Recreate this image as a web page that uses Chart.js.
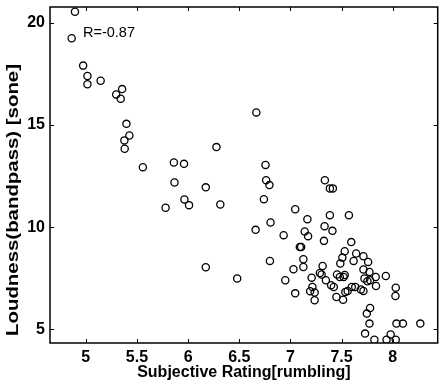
<!DOCTYPE html>
<html>
<head>
<meta charset="utf-8">
<script src="https://cdn.jsdelivr.net/npm/chart.js@4"></script>
<style>
  html, body { margin: 0; padding: 0; background: #fff; }
  #wrap { width: 443px; height: 387px; }
</style>
</head>
<body>
<div id="wrap"><canvas id="c" width="443" height="387"></canvas></div>
<script>
// ---------- data ----------
const rating = [
  4.894, 4.862, 4.974, 5.016, 5.016, 5.145, 5.355, 5.297, 5.341, 5.397,
  5.426, 5.377, 5.380, 5.558, 5.861, 5.960, 6.277, 5.867, 6.173, 5.964,
  6.009, 5.780, 6.315, 6.173, 6.480, 6.667, 6.757, 6.763, 6.795, 6.741,
  6.660, 6.806, 6.934, 7.047, 7.166, 7.140, 7.173, 7.092, 7.105, 7.127,
  7.127, 7.030, 6.950, 7.047, 6.800, 7.208, 7.215, 7.193, 7.237, 7.237,
  7.288, 7.305, 7.315, 7.337, 7.386, 7.415, 7.386, 7.334, 7.411, 7.328,
  7.572, 7.595, 7.531, 7.508, 7.488, 7.618, 7.643, 7.714, 7.760, 7.714,
  7.773, 7.834, 7.933, 7.724, 7.753, 7.779, 7.837, 7.347, 7.398, 7.424,
  7.456, 7.483, 7.521, 7.531, 7.450, 7.515, 7.537, 7.560, 7.600, 7.634,
  7.689, 7.714, 7.779, 7.747, 7.773, 7.730, 7.821, 7.940, 7.980, 8.030,
  8.030, 8.027, 8.037, 8.100, 8.270
];
const loudness = [
  20.55, 19.25, 17.91, 17.40, 17.00, 17.17, 16.76, 16.50, 16.29, 15.06,
  14.49, 14.25, 13.84, 12.94, 13.17, 13.10, 13.92, 12.19, 11.95, 11.36,
  11.08, 10.95, 11.11, 8.04, 7.49, 15.62, 13.05, 12.30, 12.06, 11.37,
  9.87, 10.23, 9.61, 10.88, 10.39, 9.79, 9.56, 9.03, 9.03, 8.43,
  8.05, 7.94, 7.40, 6.76, 8.35, 7.53, 7.07, 6.86, 6.80, 6.42,
  7.76, 7.68, 8.10, 12.30, 11.90, 11.90, 10.59, 10.05, 9.82, 9.33,
  10.59, 9.27, 8.82, 8.51, 8.22, 8.35, 8.71, 8.58, 8.30, 7.93,
  7.81, 7.56, 7.61, 7.49, 7.35, 7.40, 7.12, 7.40, 7.16, 7.07,
  7.68, 7.56, 7.56, 7.66, 6.58, 6.45, 6.83, 6.88, 7.07, 7.07,
  6.95, 6.88, 6.04, 5.77, 5.28, 4.79, 4.49, 4.49, 4.75, 4.49,
  7.04, 6.63, 5.28, 5.28, 5.28
];
const xTicks = [5, 5.5, 6, 6.5, 7, 7.5, 8];
const yTicks = [5, 10, 15, 20];
const xRange = [4.65, 8.44];
const yRange = [4.33, 20.78];
const xTitle = 'Subjective Rating[rumbling]';
const yTitle = 'Loudness(bandpass) [sone]';
const note = 'R=-0.87';

const points = rating.map((x, i) => ({ x: x, y: loudness[i] }));
const FONT = '"Liberation Sans", Arial, Helvetica, sans-serif';

// frame, inward ticks, axis titles and the R note (MATLAB look)
const framePlugin = {
  id: 'frame',
  afterDraw(chart) {
    const { ctx, chartArea: a, scales } = chart;
    const tl = 4;
    ctx.save();
    ctx.strokeStyle = '#000';
    ctx.lineWidth = 1.5;
    ctx.strokeRect(a.left, a.top, a.right - a.left, a.bottom - a.top);
    ctx.lineWidth = 1;
    ctx.beginPath();
    xTicks.forEach((v) => {
      const px = Math.round(scales.x.getPixelForValue(v)) + 0.5;
      ctx.moveTo(px, a.bottom); ctx.lineTo(px, a.bottom - tl);
      ctx.moveTo(px, a.top); ctx.lineTo(px, a.top + tl);
    });
    yTicks.forEach((v) => {
      const py = Math.round(scales.y.getPixelForValue(v)) + 0.5;
      ctx.moveTo(a.left, py); ctx.lineTo(a.left + tl, py);
      ctx.moveTo(a.right, py); ctx.lineTo(a.right - tl, py);
    });
    ctx.stroke();

    ctx.fillStyle = '#000';
    // x title
    ctx.font = 'bold 16px ' + FONT;
    ctx.textAlign = 'center';
    ctx.textBaseline = 'middle';
    ctx.fillText(xTitle, (a.left + a.right) / 2, 373);
    // y title, stretched along its length like the reference
    ctx.save();
    ctx.translate(14, 200);
    ctx.rotate(-Math.PI / 2);
    const w = ctx.measureText(yTitle).width;
    ctx.scale(272 / w, 1);
    ctx.fillText(yTitle, 0, 0);
    ctx.restore();
    // correlation note
    ctx.font = '14.5px ' + FONT;
    ctx.textAlign = 'left';
    ctx.fillText(note, 83, 33);
    ctx.restore();
  },
};

new Chart(document.getElementById('c'), {
  type: 'scatter',
  data: {
    datasets: [{
      data: points,
      pointStyle: 'circle',
      pointRadius: 3.6,
      pointBorderWidth: 1.3,
      borderColor: '#000',
      backgroundColor: 'rgba(0,0,0,0)',
    }],
  },
  options: {
    responsive: false,
    animation: false,
    devicePixelRatio: 1,
    layout: { padding: { top: 7, right: 2, left: 0, bottom: 0 } },
    plugins: { legend: { display: false }, tooltip: { enabled: false } },
    scales: {
      x: {
        type: 'linear', min: xRange[0], max: xRange[1],
        afterBuildTicks: (s) => { s.ticks = xTicks.map((v) => ({ value: v })); },
        afterFit: (s) => { s.height = 44; s.paddingLeft = 0; s.paddingRight = 0; },
        grid: { display: false, drawTicks: false, tickLength: 0 },
        border: { display: false },
        ticks: {
          color: '#000', padding: 5, maxRotation: 0, autoSkip: false,
          font: { family: FONT, size: 16, weight: 'bold' },
          callback: (v) => String(v),
        },
      },
      y: {
        type: 'linear', min: yRange[0], max: yRange[1],
        afterBuildTicks: (s) => { s.ticks = yTicks.map((v) => ({ value: v })); },
        afterFit: (s) => { s.width = 50; s.paddingTop = 0; s.paddingBottom = 0; },
        grid: { display: false, drawTicks: false, tickLength: 0 },
        border: { display: false },
        ticks: {
          color: '#000', padding: 5, autoSkip: false,
          font: { family: FONT, size: 16, weight: 'bold' },
          callback: (v) => String(v),
        },
      },
    },
  },
  plugins: [framePlugin],
});
</script>
</body>
</html>
